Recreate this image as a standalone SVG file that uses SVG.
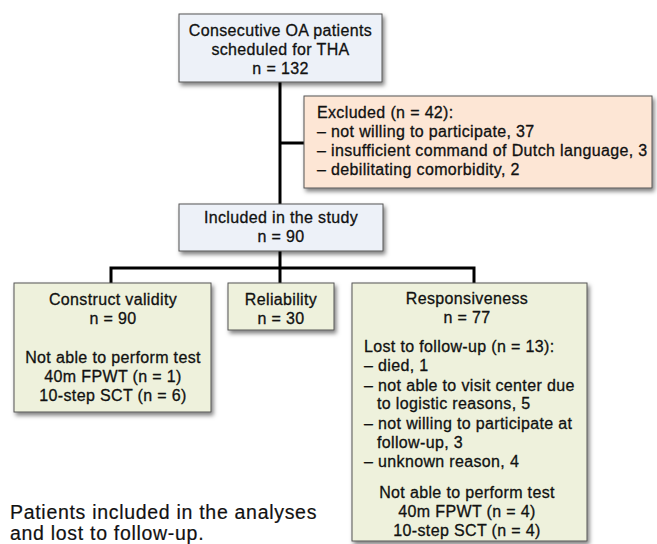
<svg xmlns="http://www.w3.org/2000/svg" width="657" height="544" viewBox="0 0 657 544">
<style>
text{font-family:"Liberation Sans",Arial,sans-serif;font-size:16px;fill:#111;stroke:#111;stroke-width:0.3px;letter-spacing:0.35px}
.c{text-anchor:middle}
.blue{fill:#edf1f8;stroke:#555;stroke-width:1}
.peach{fill:#fde6d5;stroke:#555;stroke-width:1}
.green{fill:#eef1dc;stroke:#555;stroke-width:1}
.conn{fill:none;stroke:#000;stroke-width:3}
.cap{font-size:19.5px;letter-spacing:0.7px;stroke-width:0.2px}
</style>
<defs>
<filter id="sh" x="-10%" y="-10%" width="130%" height="130%">
<feDropShadow dx="2" dy="3" stdDeviation="2" flood-color="#000" flood-opacity="0.5"/>
</filter>
</defs>
<g id="connectors">
<path class="conn" d="M280,82 V204"/>
<path class="conn" d="M280,143 H304"/>
<path class="conn" d="M280,251 V268"/>
<path class="conn" d="M111,283 V268 H474 V283"/>
<path class="conn" d="M280,268 V283"/>
</g>
<g id="top">
<rect class="blue" x="179" y="14" width="203" height="68" filter="url(#sh)"/>
<text class="c" x="280.5" y="36">Consecutive OA patients</text>
<text class="c" x="280.5" y="55">scheduled for THA</text>
<text class="c" x="280.5" y="74">n = 132</text>
</g>
<g id="excluded">
<rect class="peach" x="304" y="96" width="348" height="92" filter="url(#sh)"/>
<text x="317" y="118">Excluded (n = 42):</text>
<text x="317" y="137">– not willing to participate, 37</text>
<text x="317" y="156">– insufficient command of Dutch language, 3</text>
<text x="317" y="175">– debilitating comorbidity, 2</text>
</g>
<g id="included">
<rect class="blue" x="179" y="204" width="204" height="47" filter="url(#sh)"/>
<text class="c" x="281" y="223">Included in the study</text>
<text class="c" x="281" y="242">n = 90</text>
</g>
<g id="construct">
<rect class="green" x="14" y="283" width="197" height="129" filter="url(#sh)"/>
<text class="c" x="113" y="305">Construct validity</text>
<text class="c" x="113" y="324">n = 90</text>
<text class="c" x="113" y="363">Not able to perform test</text>
<text class="c" x="113" y="382">40m FPWT (n = 1)</text>
<text class="c" x="113" y="401">10-step SCT (n = 6)</text>
</g>
<g id="reliability">
<rect class="green" x="228" y="283" width="106" height="47" filter="url(#sh)"/>
<text class="c" x="281" y="305">Reliability</text>
<text class="c" x="281" y="324">n = 30</text>
</g>
<g id="responsiveness">
<rect class="green" x="352" y="283" width="235" height="258" filter="url(#sh)"/>
<text class="c" x="467" y="304">Responsiveness</text>
<text class="c" x="467" y="323">n = 77</text>
<text x="364" y="352">Lost to follow-up (n = 13):</text>
<text x="364" y="371">– died, 1</text>
<text x="364" y="391">– not able to visit center due</text>
<text x="377" y="409">to logistic reasons, 5</text>
<text x="364" y="429">– not willing to participate at</text>
<text x="377" y="448">follow-up, 3</text>
<text x="364" y="467">– unknown reason, 4</text>
<text class="c" x="467" y="498">Not able to perform test</text>
<text class="c" x="467" y="517">40m FPWT (n = 4)</text>
<text class="c" x="467" y="536">10-step SCT (n = 4)</text>
</g>
<g id="caption">
<text class="cap" x="10" y="519">Patients included in the analyses</text>
<text class="cap" x="10" y="540">and lost to follow-up.</text>
</g>
</svg>
